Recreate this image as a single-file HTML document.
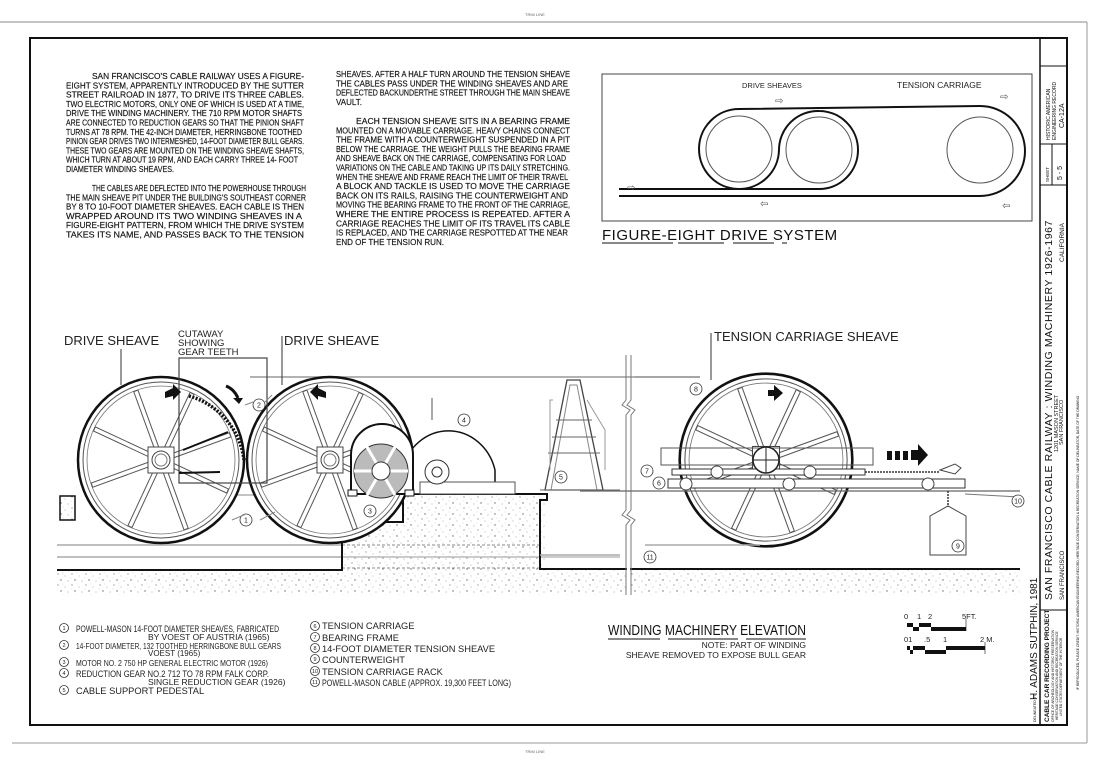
<!DOCTYPE html>
<html><head><meta charset="utf-8"><style>
html,body{margin:0;padding:0;background:#fff;}
svg{display:block;font-family:"Liberation Sans",sans-serif;}
.t{font-size:8.4px;fill:#111;stroke:#111;stroke-width:.15;}
.lg{font-size:9.3px;fill:#222;}
.n{font-size:7px;fill:#222;text-anchor:middle;}
</style></head><body>
<svg width="1110" height="763" viewBox="0 0 1110 763" xmlns="http://www.w3.org/2000/svg">
<defs>
<pattern id="st" width="14" height="11" patternUnits="userSpaceOnUse">
<rect width="14" height="11" fill="#fff"/>
<circle cx="2" cy="2" r=".6" fill="#777"/><circle cx="9" cy="4" r=".5" fill="#999"/>
<circle cx="5" cy="8" r=".7" fill="#666"/><circle cx="12" cy="9" r=".5" fill="#888"/>
<circle cx="7" cy="1" r=".4" fill="#aaa"/><circle cx="1" cy="6" r=".4" fill="#aaa"/>
</pattern>
<g id="wheel">
<circle r="83" fill="#fff" stroke="#111" stroke-width="2.5"/>
<circle r="78" fill="none" stroke="#555" stroke-width="1"/>
<circle r="74" fill="none" stroke="#777" stroke-width=".8"/>
<g stroke="#555" stroke-width="5.5"><line x1="0" y1="0" x2="74" y2="0" transform="rotate(-20)"/><line x1="0" y1="0" x2="74" y2="0" transform="rotate(-65)"/><line x1="0" y1="0" x2="74" y2="0" transform="rotate(-110)"/><line x1="0" y1="0" x2="74" y2="0" transform="rotate(-155)"/><line x1="0" y1="0" x2="74" y2="0" transform="rotate(160)"/><line x1="0" y1="0" x2="74" y2="0" transform="rotate(115)"/><line x1="0" y1="0" x2="74" y2="0" transform="rotate(70)"/><line x1="0" y1="0" x2="74" y2="0" transform="rotate(25)"/></g>
<g stroke="#fff" stroke-width="3.5"><line x1="0" y1="0" x2="73" y2="0" transform="rotate(-20)"/><line x1="0" y1="0" x2="73" y2="0" transform="rotate(-65)"/><line x1="0" y1="0" x2="73" y2="0" transform="rotate(-110)"/><line x1="0" y1="0" x2="73" y2="0" transform="rotate(-155)"/><line x1="0" y1="0" x2="73" y2="0" transform="rotate(160)"/><line x1="0" y1="0" x2="73" y2="0" transform="rotate(115)"/><line x1="0" y1="0" x2="73" y2="0" transform="rotate(70)"/><line x1="0" y1="0" x2="73" y2="0" transform="rotate(25)"/></g>
<rect x="-13" y="-13" width="26" height="26" fill="#fff" stroke="#444"/>
<circle r="9" fill="#fff" stroke="#444"/><circle r="6" fill="none" stroke="#777"/>
</g>
</defs>

<!-- frame -->
<line x1="0" y1="22" x2="1087" y2="22" stroke="#888" stroke-width="1"/>
<line x1="1087" y1="22" x2="1087" y2="743" stroke="#999"/>
<line x1="12" y1="743" x2="1087" y2="743" stroke="#999"/>
<rect x="30" y="38" width="1037" height="687" fill="none" stroke="#111" stroke-width="2"/>
<text x="525" y="16" font-size="4" fill="#666">TRIM LINE</text>
<text x="525" y="753" font-size="4" fill="#666">TRIM LINE</text>

<!-- title strip -->
<line x1="1040" y1="38" x2="1040" y2="725" stroke="#111" stroke-width="1.5"/>
<line x1="1040" y1="66" x2="1067" y2="66" stroke="#111"/>
<line x1="1040" y1="144" x2="1067" y2="144" stroke="#111"/>
<line x1="1052" y1="144" x2="1052" y2="185" stroke="#111"/>
<line x1="1040" y1="185" x2="1067" y2="185" stroke="#111"/>
<line x1="1040" y1="610" x2="1067" y2="610" stroke="#111"/>
<g fill="#111">
<text transform="translate(1050,140) rotate(-90)" font-size="5">HISTORIC AMERICAN</text>
<text transform="translate(1056,140) rotate(-90)" font-size="5">ENGINEERING RECORD</text>
<text transform="translate(1064,128) rotate(-90)" font-size="7">CA-12A</text>
<text transform="translate(1049,182) rotate(-90)" font-size="4.5">SHEET</text>
<text transform="translate(1062,180) rotate(-90)" font-size="7">5 - 5</text>
<text transform="translate(1052,600) rotate(-90)" font-size="10.5" letter-spacing=".6">SAN  FRANCISCO  CABLE  RAILWAY : WINDING  MACHINERY      1926-1967</text>
<text transform="translate(1058,452) rotate(-90)" font-size="5.5">1201 MASON STREET</text>
<text transform="translate(1063,445) rotate(-90)" font-size="5.5">SAN  FRANCISCO</text>
<text transform="translate(1064,600) rotate(-90)" font-size="6">SAN FRANCISCO</text>
<text transform="translate(1064,262) rotate(-90)" font-size="6.5">CALIFORNIA</text>
<text transform="translate(1049,722) rotate(-90)" font-size="6.5" font-weight="bold">CABLE CAR RECORDING PROJECT</text>
<text transform="translate(1054,722) rotate(-90)" font-size="3.3">OFFICE OF ARCHEOLOGY AND HISTORIC PRESERVATION</text>
<text transform="translate(1058,720) rotate(-90)" font-size="3.3">HERITAGE CONSERVATION AND RECREATION SERVICE</text>
<text transform="translate(1062,716) rotate(-90)" font-size="3.3">UNITED STATES DEPARTMENT OF THE INTERIOR</text>
<text transform="translate(1036,722) rotate(-90)" font-size="3.5">DELINEATED BY:</text>
<text transform="translate(1037,700) rotate(-90)" font-size="10">H. ADAMS  SUTPHIN, 1981</text>
<text transform="translate(1079,690) rotate(-90)" font-size="3.3">IF REPRODUCED, PLEASE CREDIT: HISTORIC AMERICAN ENGINEERING RECORD, HERITAGE CONSERVATION &amp; RECREATION SERVICE, NAME OF DELINEATOR, DATE OF THE DRAWING</text>
</g>

<!-- text paragraphs left -->
<g class="t">
<text x="92" y="79" textLength="212" lengthAdjust="spacingAndGlyphs">SAN FRANCISCO'S  CABLE  RAILWAY  USES  A  FIGURE-</text>
<text x="66" y="88.3" textLength="238" lengthAdjust="spacingAndGlyphs">EIGHT  SYSTEM, APPARENTLY  INTRODUCED  BY THE  SUTTER</text>
<text x="66" y="97.6" textLength="238" lengthAdjust="spacingAndGlyphs">STREET  RAILROAD  IN  1877, TO DRIVE ITS THREE CABLES.</text>
<text x="66" y="106.9" textLength="238" lengthAdjust="spacingAndGlyphs">TWO ELECTRIC MOTORS, ONLY ONE OF WHICH IS USED AT A TIME,</text>
<text x="66" y="116.2" textLength="236" lengthAdjust="spacingAndGlyphs">DRIVE THE WINDING MACHINERY.  THE  710 RPM MOTOR SHAFTS</text>
<text x="66" y="125.5" textLength="238" lengthAdjust="spacingAndGlyphs">ARE CONNECTED TO  REDUCTION GEARS SO THAT THE PINION SHAFT</text>
<text x="66" y="134.8" textLength="236" lengthAdjust="spacingAndGlyphs">TURNS AT 78 RPM. THE  42-INCH DIAMETER, HERRINGBONE TOOTHED</text>
<text x="66" y="144.1" textLength="238" lengthAdjust="spacingAndGlyphs">PINION GEAR DRIVES TWO INTERMESHED, 14-FOOT DIAMETER BULL GEARS.</text>
<text x="66" y="153.4" textLength="238" lengthAdjust="spacingAndGlyphs">THESE TWO GEARS ARE MOUNTED ON THE WINDING SHEAVE SHAFTS,</text>
<text x="66" y="162.7" textLength="232" lengthAdjust="spacingAndGlyphs">WHICH TURN AT ABOUT 19 RPM, AND EACH CARRY THREE  14- FOOT</text>
<text x="66" y="172" textLength="108" lengthAdjust="spacingAndGlyphs">DIAMETER WINDING SHEAVES.</text>
<text x="92" y="191" textLength="214" lengthAdjust="spacingAndGlyphs">THE CABLES ARE DEFLECTED INTO THE POWERHOUSE THROUGH</text>
<text x="66" y="200.3" textLength="240" lengthAdjust="spacingAndGlyphs">THE MAIN SHEAVE PIT UNDER THE BUILDING'S SOUTHEAST CORNER</text>
<text x="66" y="209.6" textLength="238" lengthAdjust="spacingAndGlyphs">BY 8 TO 10-FOOT DIAMETER SHEAVES. EACH CABLE IS  THEN</text>
<text x="66" y="218.9" textLength="236" lengthAdjust="spacingAndGlyphs">WRAPPED AROUND ITS TWO WINDING  SHEAVES    IN  A</text>
<text x="66" y="228.2" textLength="238" lengthAdjust="spacingAndGlyphs">FIGURE-EIGHT PATTERN, FROM WHICH THE DRIVE SYSTEM</text>
<text x="66" y="237.5" textLength="238" lengthAdjust="spacingAndGlyphs">TAKES ITS NAME, AND PASSES BACK  TO THE  TENSION</text>
</g>
<g class="t">
<text x="336" y="77" textLength="234" lengthAdjust="spacingAndGlyphs">SHEAVES. AFTER A HALF TURN AROUND THE TENSION SHEAVE</text>
<text x="336" y="86.3" textLength="232" lengthAdjust="spacingAndGlyphs">THE CABLES  PASS  UNDER THE WINDING SHEAVES AND  ARE</text>
<text x="336" y="95.6" textLength="234" lengthAdjust="spacingAndGlyphs">DEFLECTED BACKUNDERTHE STREET  THROUGH THE MAIN SHEAVE</text>
<text x="336" y="104.9" textLength="26" lengthAdjust="spacingAndGlyphs">VAULT.</text>
<text x="356" y="124" textLength="214" lengthAdjust="spacingAndGlyphs">EACH  TENSION  SHEAVE  SITS IN A BEARING  FRAME</text>
<text x="336" y="133.3" textLength="234" lengthAdjust="spacingAndGlyphs">MOUNTED ON A MOVABLE CARRIAGE. HEAVY CHAINS CONNECT</text>
<text x="336" y="142.6" textLength="234" lengthAdjust="spacingAndGlyphs">THE FRAME WITH A COUNTERWEIGHT  SUSPENDED IN  A  PIT</text>
<text x="336" y="151.9" textLength="234" lengthAdjust="spacingAndGlyphs">BELOW THE CARRIAGE. THE WEIGHT PULLS THE BEARING FRAME</text>
<text x="336" y="161.2" textLength="230" lengthAdjust="spacingAndGlyphs">AND SHEAVE BACK ON THE CARRIAGE, COMPENSATING FOR LOAD</text>
<text x="336" y="170.5" textLength="234" lengthAdjust="spacingAndGlyphs">VARIATIONS ON THE CABLE AND TAKING UP ITS DAILY STRETCHING.</text>
<text x="336" y="179.8" textLength="232" lengthAdjust="spacingAndGlyphs">WHEN THE SHEAVE AND FRAME REACH THE LIMIT OF THEIR  TRAVEL</text>
<text x="336" y="189.1" textLength="234" lengthAdjust="spacingAndGlyphs">A  BLOCK  AND  TACKLE  IS USED  TO  MOVE  THE  CARRIAGE</text>
<text x="336" y="198.4" textLength="232" lengthAdjust="spacingAndGlyphs">BACK  ON  ITS  RAILS,  RAISING THE COUNTERWEIGHT    AND</text>
<text x="336" y="207.7" textLength="234" lengthAdjust="spacingAndGlyphs">MOVING THE BEARING FRAME TO THE FRONT OF THE  CARRIAGE,</text>
<text x="336" y="217" textLength="234" lengthAdjust="spacingAndGlyphs">WHERE THE ENTIRE PROCESS IS   REPEATED.  AFTER A</text>
<text x="336" y="226.3" textLength="234" lengthAdjust="spacingAndGlyphs">CARRIAGE REACHES THE LIMIT  OF ITS TRAVEL ITS  CABLE</text>
<text x="336" y="235.6" textLength="232" lengthAdjust="spacingAndGlyphs">IS REPLACED, AND THE CARRIAGE RESPOTTED AT THE  NEAR</text>
<text x="336" y="244.9" textLength="108" lengthAdjust="spacingAndGlyphs">END OF THE TENSION  RUN.</text>
</g>

<!-- figure eight -->
<rect x="602" y="74" width="430" height="147" fill="none" stroke="#444" stroke-width="1"/>
<text x="742" y="88" font-size="7.5" fill="#222">DRIVE  SHEAVES</text>
<text x="897" y="88" font-size="8.5" fill="#222">TENSION CARRIAGE</text>
<circle cx="739" cy="149" r="33" fill="none" stroke="#555"/>
<circle cx="819" cy="150" r="33" fill="none" stroke="#555"/>
<circle cx="980" cy="150" r="33" fill="none" stroke="#555"/>
<path d="M619,189 L819,189 A39,39 0 0 0 858,150 A39,39 0 0 0 819,111 A39,39 0 0 0 779,150 A40,40 0 1 1 739,109 L980,106 A45,45 0 0 1 980,196 L619,196" fill="none" stroke="#111" stroke-width="2"/>
<g font-family="DejaVu Sans" font-size="10" fill="#555">
<text x="627" y="191">⇨</text><text x="760" y="207">⇦</text><text x="775" y="104">⇨</text><text x="1002" y="209">⇦</text><text x="1000" y="100">⇨</text>
</g>
<text x="602" y="240" font-size="15" fill="#111" letter-spacing=".5">FIGURE-EIGHT  DRIVE  SYSTEM</text>
<line x1="602" y1="243" x2="673" y2="243" stroke="#111"/><line x1="678" y1="243" x2="724" y2="243" stroke="#111"/><line x1="733" y1="243" x2="774" y2="243" stroke="#111"/><line x1="782" y1="243" x2="787" y2="243" stroke="#111"/>

<!-- elevation: ground -->
<rect x="57" y="570" width="570" height="25" fill="url(#st)"/>
<rect x="630" y="569" width="390" height="26" fill="url(#st)"/>
<rect x="342" y="494" width="205" height="76" fill="url(#st)"/>
<rect x="359" y="494" width="44" height="28" fill="#fff"/>
<rect x="60" y="496" width="15" height="24" fill="url(#st)" stroke="#111" stroke-width="1.5"/>
<line x1="250" y1="377" x2="700" y2="377" stroke="#999" stroke-width="1.5"/>
<line x1="57" y1="545" x2="342" y2="545" stroke="#aaa" stroke-width="1.5"/>
<line x1="57" y1="557" x2="342" y2="557" stroke="#aaa" stroke-width="1.5"/>
<line x1="120" y1="495" x2="342" y2="495" stroke="#888"/>
<line x1="342" y1="545" x2="540" y2="545" stroke="#888" stroke-dasharray="3,2"/>
<line x1="342" y1="557" x2="620" y2="557" stroke="#bbb" stroke-width="1.5"/>
<line x1="342" y1="568" x2="540" y2="568" stroke="#888" stroke-dasharray="3,2"/>
<polyline points="57,570 342,570 342,494 359,494 359,522 403,522 403,494 547,494 547,500 540,500 540,569 627,569" fill="none" stroke="#111" stroke-width="2"/>
<line x1="630" y1="569" x2="1020" y2="569" stroke="#111" stroke-width="2"/>
<!-- wheels -->
<use href="#wheel" x="161" y="460"/>
<use href="#wheel" x="330" y="460"/>
<rect x="179" y="358" width="88" height="125" fill="none" stroke="#444" stroke-width="1.2"/>
<path d="M189,396 A76,76 0 0 1 244,460" fill="none" stroke="#111" stroke-width="3.5" stroke-dasharray="2,1.5"/>
<line x1="179" y1="473" x2="220" y2="472" stroke="#111" stroke-width="2"/>
<line x1="183" y1="450" x2="228" y2="432" stroke="#111" stroke-width="2"/>
<path d="M165,392 l8,-4 l0,-4 l8,8 l-8,8 l0,-4 l-8,2z" fill="#111"/>
<path d="M326,392 l-8,-4 l0,-4 l-8,8 l8,8 l0,-4 l8,2z" fill="#111"/>
<path d="M226,386 q8,3 12,12" fill="none" stroke="#111" stroke-width="3"/><path d="M233,398 l10,0 l-4,6z" fill="#111"/>
<!-- labels -->
<text x="64" y="345" font-size="13" fill="#222">DRIVE SHEAVE</text>
<line x1="121" y1="349" x2="121" y2="385" stroke="#333"/>
<text x="178" y="337" font-size="9.5" fill="#222">CUTAWAY</text>
<text x="178" y="346" font-size="9.5" fill="#222">SHOWING</text>
<text x="178" y="355" font-size="9.5" fill="#222">GEAR TEETH</text>
<text x="284" y="345" font-size="13" fill="#222">DRIVE SHEAVE</text>
<line x1="282" y1="336" x2="282" y2="385" stroke="#333"/>
<!-- motor and gear -->
<path d="M402,494 L402,470 A48,52 0 0 1 495,470 L495,494z" fill="#fff" stroke="#111" stroke-width="1.5"/>
<line x1="432" y1="398" x2="432" y2="420" stroke="#555"/>
<rect x="420" y="482" width="95" height="12" fill="#fff" stroke="#555"/>
<circle cx="437" cy="472" r="12" fill="#fff" stroke="#333"/><circle cx="437" cy="472" r="5" fill="none" stroke="#333"/>
<path d="M351,494 L351,455 A31,31 0 0 1 413,455 L413,494z" fill="#fff" stroke="#111" stroke-width="2"/>
<circle cx="381" cy="471" r="27" fill="#bbb" stroke="#333"/>
<g stroke="#fff" stroke-width="3"><line x1="354" y1="471" x2="408" y2="471"/><line x1="367" y1="447" x2="395" y2="495"/><line x1="395" y1="447" x2="367" y2="495"/></g>
<circle cx="381" cy="471" r="9" fill="#fff" stroke="#333"/>
<rect x="348" y="490" width="9" height="6" fill="#fff" stroke="#111"/><rect x="405" y="490" width="9" height="6" fill="#fff" stroke="#111"/>
<!-- pedestal -->
<path d="M545,490 L567,380 L580,380 L603,490z" fill="none" stroke="#444" stroke-width="1.3"/>
<path d="M551,490 L570,385 L577,385 L597,490" fill="none" stroke="#888"/>
<g stroke="#666"><line x1="556" y1="420" x2="592" y2="420"/><line x1="552" y1="437" x2="596" y2="437"/><line x1="548" y1="453" x2="600" y2="453"/><line x1="540" y1="490" x2="620" y2="490"/></g>
<path d="M553,400 L550,400 L550,470 M587,400 L605,430 L605,470" fill="none" stroke="#999"/>
<!-- break line -->
<path d="M626,355 L626,400 L622,405 L630,410 L626,415 L626,510 L622,515 L630,520 L626,525 L626,595" fill="none" stroke="#777"/>
<path d="M631,355 L631,400 L627,405 L635,410 L631,415 L631,510 L627,515 L635,520 L631,525 L631,595" fill="none" stroke="#777"/>
<line x1="635" y1="377" x2="700" y2="377" stroke="#999" stroke-width="1.5"/>
<line x1="540" y1="555" x2="620" y2="555" stroke="#aaa" stroke-width="1.5"/>
<!-- tension wheel -->
<use href="#wheel" x="766" y="460" transform="translate(766,460) scale(1.04) translate(-766,-460)"/>
<rect x="661" y="448" width="212" height="17" fill="none" stroke="#555"/>
<rect x="672" y="469" width="193" height="6" fill="#fff" stroke="#333"/>
<rect x="668" y="479" width="297" height="9" fill="#fff" stroke="#333"/>
<line x1="580" y1="491" x2="1020" y2="491" stroke="#666" stroke-width="1.2"/>
<line x1="865" y1="472" x2="940" y2="472" stroke="#333" stroke-width="1.5" stroke-dasharray="2,1"/>
<circle cx="766" cy="460" r="13" fill="#fff" stroke="#222" stroke-width="1.5"/>
<line x1="753" y1="460" x2="779" y2="460" stroke="#222"/><line x1="766" y1="447" x2="766" y2="473" stroke="#222"/>
<g fill="#fff" stroke="#444"><circle cx="717" cy="472" r="6"/><circle cx="810" cy="472" r="6"/><circle cx="686" cy="484" r="6"/><circle cx="789" cy="484" r="6"/><circle cx="928" cy="484" r="6"/></g>
<path d="M768,390 l6,0 l0,-5 l9,8 l-9,8 l0,-5 l-6,0z" fill="#111"/>
<g fill="#111"><rect x="887" y="451" width="5" height="9"/><rect x="895" y="451" width="5" height="9"/><rect x="903" y="451" width="5" height="9"/><path d="M911,450 l7,0 l0,-6 l10,11 l-10,11 l0,-6 l-7,0z"/></g>
<path d="M940,470 l15,-6 l6,4 l-6,6z" fill="none" stroke="#444"/>
<line x1="948" y1="491" x2="948" y2="508" stroke="#333" stroke-width="1.5" stroke-dasharray="2,1"/>
<path d="M930,516 L930,555 L966,555 L966,516 L948,506z" fill="#fff" stroke="#444"/>
<line x1="965" y1="494" x2="1020" y2="497" stroke="#777"/>
<line x1="645" y1="545" x2="760" y2="545" stroke="#aaa" stroke-width="1.5"/>
<line x1="711" y1="333" x2="711" y2="380" stroke="#333"/>
<text x="714" y="341" font-size="13" fill="#222">TENSION CARRIAGE SHEAVE</text>

<!-- number markers -->
<g fill="#fff" stroke="#333" stroke-width=".8">
<circle cx="259" cy="405" r="6"/><circle cx="246" cy="520" r="6"/><circle cx="370" cy="511" r="6"/><circle cx="464" cy="420" r="6"/><circle cx="561" cy="477" r="6"/>
<circle cx="647" cy="471" r="6"/><circle cx="659" cy="483" r="6"/><circle cx="696" cy="389" r="6"/><circle cx="958" cy="546" r="6"/><circle cx="1018" cy="501" r="6"/><circle cx="650" cy="557" r="6"/>
</g>
<g class="n">
<text x="259" y="407.5">2</text><text x="246" y="522.5">1</text><text x="370" y="513.5">3</text><text x="464" y="422.5">4</text><text x="561" y="479.5">5</text>
<text x="647" y="473.5">7</text><text x="659" y="485.5">6</text><text x="696" y="391.5">8</text><text x="958" y="548.5">9</text><text x="1018" y="503.5">10</text><text x="650" y="559.5">11</text>
</g>
<path d="M232,520 L246,514 M260,520 L275,512 M245,405 L253,402 M265,402 L272,395" stroke="#888" fill="none"/>

<!-- legend -->
<g fill="#fff" stroke="#333" stroke-width=".8">
<circle cx="64" cy="628" r="4.5"/><circle cx="64" cy="645" r="4.5"/><circle cx="64" cy="662" r="4.5"/><circle cx="64" cy="673" r="4.5"/><circle cx="64" cy="690" r="4.5"/>
<circle cx="315" cy="626" r="4.5"/><circle cx="315" cy="637" r="4.5"/><circle cx="315" cy="648" r="4.5"/><circle cx="315" cy="659" r="4.5"/><circle cx="315" cy="671" r="4.5"/><circle cx="315" cy="682" r="4.5"/>
</g>
<g font-size="5.5" fill="#222" text-anchor="middle">
<text x="64" y="630">1</text><text x="64" y="647">2</text><text x="64" y="664">3</text><text x="64" y="675">4</text><text x="64" y="692">5</text>
<text x="315" y="628">6</text><text x="315" y="639">7</text><text x="315" y="650">8</text><text x="315" y="661">9</text><text x="315" y="673">10</text><text x="315" y="684">11</text>
</g>
<g class="lg">
<text x="76" y="632" textLength="203" lengthAdjust="spacingAndGlyphs">POWELL-MASON  14-FOOT DIAMETER SHEAVES, FABRICATED</text>
<text x="148" y="640" font-size="8.5">BY VOEST  OF AUSTRIA (1965)</text>
<text x="76" y="649" textLength="205" lengthAdjust="spacingAndGlyphs" font-size="8">14-FOOT DIAMETER, 132 TOOTHED HERRINGBONE BULL GEARS</text>
<text x="148" y="656" font-size="8">VOEST (1965)</text>
<text x="76" y="666" textLength="192" lengthAdjust="spacingAndGlyphs" font-size="8.5">MOTOR NO. 2   750 HP  GENERAL ELECTRIC MOTOR (1926)</text>
<text x="76" y="677" textLength="193" lengthAdjust="spacingAndGlyphs">REDUCTION  GEAR NO.2   712  TO 78 RPM  FALK CORP.</text>
<text x="148" y="685" font-size="8.5">SINGLE REDUCTION GEAR (1926)</text>
<text x="76" y="694">CABLE  SUPPORT  PEDESTAL</text>
<text x="322" y="629">TENSION  CARRIAGE</text>
<text x="322" y="641">BEARING  FRAME</text>
<text x="322" y="652">14-FOOT  DIAMETER  TENSION  SHEAVE</text>
<text x="322" y="663">COUNTERWEIGHT</text>
<text x="322" y="675">TENSION  CARRIAGE  RACK</text>
<text x="322" y="686" textLength="189" lengthAdjust="spacingAndGlyphs">POWELL-MASON  CABLE  (APPROX.  19,300 FEET LONG)</text>
</g>

<!-- elevation title -->
<text x="608" y="635" font-size="14.5" fill="#111" textLength="198" lengthAdjust="spacingAndGlyphs">WINDING  MACHINERY  ELEVATION</text>
<g stroke="#111"><line x1="608" y1="639" x2="660" y2="639"/><line x1="668" y1="639" x2="738" y2="639"/><line x1="746" y1="639" x2="806" y2="639"/></g>
<text x="806" y="648" font-size="8.5" fill="#222" text-anchor="end">NOTE:  PART  OF  WINDING</text>
<text x="806" y="658" font-size="8.5" fill="#222" text-anchor="end">SHEAVE  REMOVED  TO  EXPOSE  BULL  GEAR</text>

<!-- scale -->
<g font-size="7.5" fill="#222">
<text x="904" y="619">0</text><text x="917" y="619">1</text><text x="928" y="619">2</text><text x="962" y="619">5FT.</text>
<text x="904" y="642">01</text><text x="924" y="642">.5</text><text x="943" y="642">1</text><text x="980" y="642">2 M.</text>
</g>
<g fill="#111">
<rect x="907" y="623" width="6" height="4"/><rect x="913" y="627" width="6" height="4"/><rect x="919" y="623" width="12" height="4"/><rect x="931" y="627" width="35" height="4"/>
<rect x="907" y="646" width="3" height="4"/><rect x="910" y="650" width="3" height="4"/><rect x="913" y="646" width="12" height="4"/><rect x="925" y="650" width="21" height="4"/><rect x="946" y="646" width="39" height="4"/>
</g>
<line x1="966" y1="619" x2="966" y2="631" stroke="#111" stroke-width=".6"/>
<line x1="985" y1="642" x2="985" y2="654" stroke="#111" stroke-width=".6"/>
</svg>
</body></html>
